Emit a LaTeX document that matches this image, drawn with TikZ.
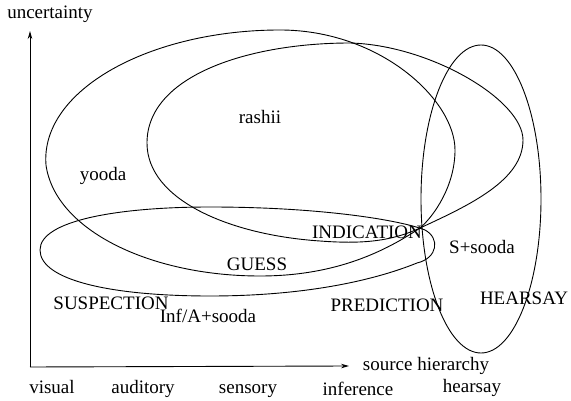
\documentclass[tikz,border=0pt]{standalone}
\usepackage{fontspec}
\setmainfont{Liberation Serif}
\usetikzlibrary{arrows.meta}
\begin{document}
\begin{tikzpicture}[x=1pt,y=-1pt,
  curve/.style={line width=0.9pt},
  axis/.style={line width=0.9pt,-{Stealth[length=8pt,width=4.5pt]}},
  lbl/.style={anchor=base,inner sep=0pt,font=\fontsize{19}{22}\selectfont}]
\useasboundingbox (0,0) rectangle (571,401);
% yooda
\draw[curve] (46,165) .. controls (40,90) and (150,30) .. (280,30)
  .. controls (380,30) and (455,100) .. (455,150)
  .. controls (455,185) and (435,215) .. (420,228)
  .. controls (380,255) and (330,276) .. (260,276)
  .. controls (150,276) and (55,230) .. (46,165) -- cycle;
% rashii
\draw[curve] (147,143) .. controls (147,75) and (250,43) .. (350,43)
  .. controls (430,45) and (523,100) .. (523,140)
  .. controls (523,180) and (470,205) .. (420,228)
  .. controls (390,242) and (360,244) .. (320,241)
  .. controls (230,235) and (147,200) .. (147,143) -- cycle;
% guess
\draw[curve] (40,250) .. controls (40,220) and (120,207) .. (210,207)
  .. controls (320,207) and (400,220) .. (425,230)
  .. controls (440,238) and (438,258) .. (417,263)
  .. controls (370,282) and (300,296) .. (210,296)
  .. controls (110,296) and (40,280) .. (40,250) -- cycle;
% hearsay
\draw[curve] (481,199) ellipse [x radius=60, y radius=154];
% axes
\coordinate (o) at (30,367);
\coordinate (ytip) at (30,31);
\coordinate (xtip) at (349,366);
\draw[axis] (o) -- (ytip);
\draw[axis] (o) -- (xtip);
% labels
\node[lbl] (unc) at (50,19) {uncertainty};
\node[lbl] (src) at (426,370) {source hierarchy};
\node[lbl] (yooda) at (103,181) {yooda};
\node[lbl] (rashii) at (260,124) {rashii};
\node[lbl] (indic) at (367,239) {INDICATION};
\node[lbl] (guess) at (257,271) {GUESS};
\node[lbl] (ssooda) at (482,254) {S+sooda};
\node[lbl] (pred) at (387,311) {PREDICTION};
\node[lbl] (hears) at (524,304) {HEARSAY};
\node[lbl] (susp) at (111,309) {SUSPECTION};
\node[lbl] (infa) at (208,322) {Inf/A+sooda};
\node[lbl] (vis) at (52,393) {visual};
\node[lbl] (aud) at (143,393) {auditory};
\node[lbl] (sens) at (248,393) {sensory};
\node[lbl] (inf) at (358,395) {inference};
\node[lbl] (hs) at (472,392) {hearsay};
\end{tikzpicture}
\end{document}
